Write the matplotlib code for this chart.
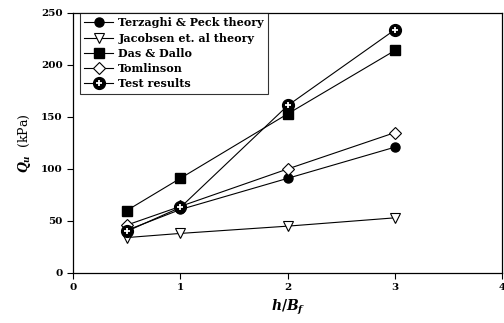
import numpy as np
import matplotlib.pyplot as plt
from matplotlib.legend_handler import HandlerTuple

plt.rcParams['font.family'] = 'DejaVu Serif'
plt.rcParams['font.weight'] = 'bold'
plt.rcParams['mathtext.fontset'] = 'dejavuserif'

h_bf = [0.5, 1, 2, 3]
terzaghi = [41, 61, 91, 121]
jacobsen = [34, 38, 45, 53]
das_dallo = [60, 91, 153, 214]
tomlinson = [46, 64, 100, 135]
test_results = [40, 63, 161, 234]

fig = plt.figure(figsize=(5.04, 3.23), dpi=100)
ax = fig.add_axes([0.145, 0.155, 0.852, 0.805])

lw = 0.8
l1, = ax.plot(h_bf, terzaghi, '-o', color='k', lw=lw, ms=6.5, mfc='k', mec='k',
              label='Terzaghi & Peck theory')
l2, = ax.plot(h_bf, jacobsen, '-v', color='k', lw=lw, ms=7.5, mfc='white', mec='k',
              mew=0.8, label='Jacobsen et. al theory')
l3, = ax.plot(h_bf, das_dallo, '-s', color='k', lw=lw, ms=6.5, mfc='k', mec='k',
              label='Das & Dallo')
l4, = ax.plot(h_bf, tomlinson, '-D', color='k', lw=lw, ms=6, mfc='white', mec='k',
              mew=0.8, label='Tomlinson')
# test results: black circle with a white cross on top
l5, = ax.plot(h_bf, test_results, '-o', color='k', lw=lw, ms=8.5, mfc='k', mec='k')
l5p, = ax.plot(h_bf, test_results, '+', color='white', ms=4.5, mew=1.3, ls='none')

handles = [l1, l2, l3, l4, (l5, l5p)]
labels = ['Terzaghi & Peck theory', 'Jacobsen et. al theory', 'Das & Dallo',
          'Tomlinson', 'Test results']
leg = ax.legend(handles, labels, loc='upper left', fontsize=8, frameon=True,
                fancybox=False, edgecolor='k', borderpad=0.4, labelspacing=0.38,
                handlelength=2.6, handletextpad=0.45, borderaxespad=0,
                handler_map={tuple: HandlerTuple(ndivide=1)},
                bbox_to_anchor=(0.016, 1.0))
leg.get_frame().set_linewidth(0.8)

ax.set_xlim(0, 4)
ax.set_ylim(0, 250)
ax.set_xticks([0, 1, 2, 3, 4])
ax.set_yticks([0, 50, 100, 150, 200, 250])
ax.tick_params(direction='out', length=4, width=0.8, labelsize=7.5,
               top=False, right=False)
for s in ax.spines.values():
    s.set_linewidth(0.9)

ax.set_xlabel(r'$\mathit{h/B_f}$', fontsize=10, labelpad=4)
ax.set_ylabel(r'$\mathit{Q_u}$  (kPa)', fontsize=9, labelpad=6)

fig.savefig('out.png', dpi=100)
